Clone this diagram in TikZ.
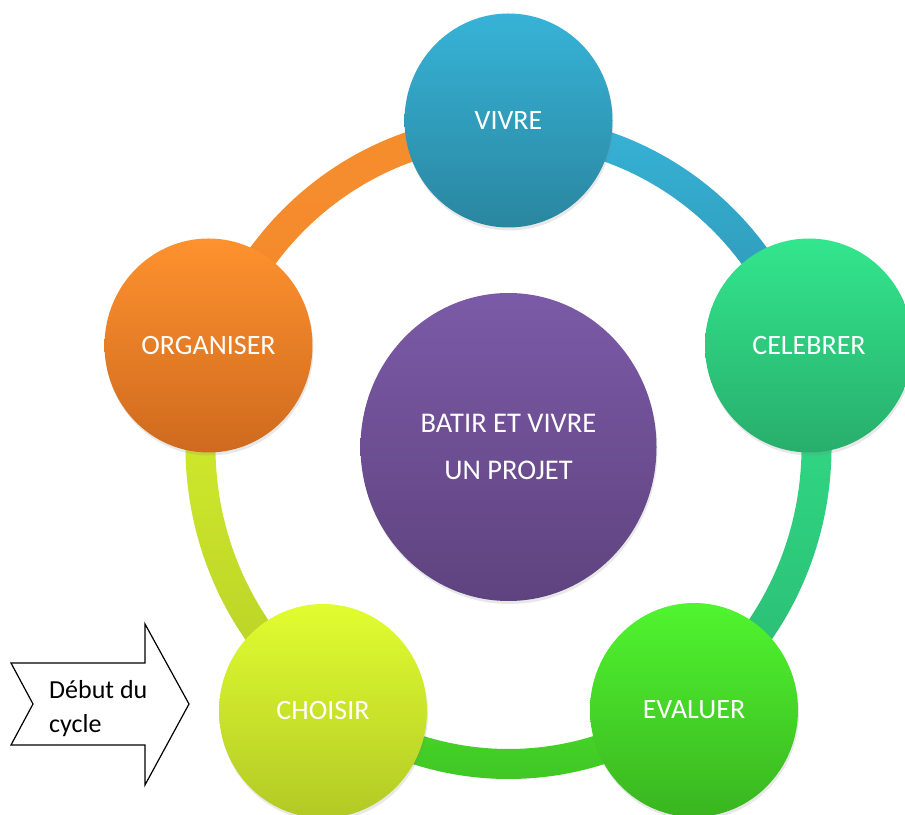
\documentclass[tikz,border=0pt]{standalone}
\usepackage{fontspec}
\setmainfont{Carlito}
\usetikzlibrary{shapes.geometric,shadows}

\definecolor{projetTop}{HTML}{7B5AA7}
\definecolor{projetBot}{HTML}{5F437F}
\definecolor{vivreTop}{HTML}{37B3D7}
\definecolor{vivreBot}{HTML}{2A86A0}
\definecolor{celebrerTop}{HTML}{33E68D}
\definecolor{celebrerBot}{HTML}{28AE6C}
\definecolor{evaluerTop}{HTML}{50F52F}
\definecolor{evaluerBot}{HTML}{3AB520}
\definecolor{choisirTop}{HTML}{E1FD30}
\definecolor{choisirBot}{HTML}{B3C925}
\definecolor{organiserTop}{HTML}{FE922F}
\definecolor{organiserBot}{HTML}{CF6A1E}

\begin{document}
\begin{tikzpicture}[x=1pt,y=1pt,
    etape/.style={ellipse, minimum width=208pt, minimum height=214pt, inner sep=0pt,
        text=white, font=\fontsize{28}{34}\selectfont,
        drop shadow={shadow xshift=1pt, shadow yshift=-3pt, opacity=0.18}},
    ]
            \clip (0,0) rectangle (905,814);
            \node[etape, minimum width=296pt, minimum height=308pt, top color=projetTop, bottom color=projetBot,
                align=center, font=\fontsize{28.5}{47}\selectfont](projet) at (508.5,367){BATIR ET VIVRE\\UN PROJET};
            % ring round the centre
            \begin{scope}[shift={(projet.center)}]
            \shade[top color=organiserTop!97!black, bottom color=organiserTop!75!organiserBot] (162:323 and 332) arc[start angle=162, end angle=90, x radius=323, y radius=332] -- (90:293 and 302) arc[start angle=90, end angle=162, x radius=293, y radius=302] -- cycle;
            \shade[top color=vivreTop, bottom color=vivreBot!70!vivreTop] (90:323 and 332) arc[start angle=90, end angle=18, x radius=323, y radius=332] -- (18:293 and 302) arc[start angle=18, end angle=90, x radius=293, y radius=302] -- cycle;
            \shade[top color=celebrerTop!97!black, bottom color=celebrerBot!80!celebrerTop] (18:323 and 332) arc[start angle=18, end angle=-54, x radius=323, y radius=332] -- (-54:293 and 302) arc[start angle=-54, end angle=18, x radius=293, y radius=302] -- cycle;
            \shade[top color=evaluerTop!90!black, bottom color=evaluerBot!80!evaluerTop] (-54:323 and 332) arc[start angle=-54, end angle=-126, x radius=323, y radius=332] -- (-126:293 and 302) arc[start angle=-126, end angle=-54, x radius=293, y radius=302] -- cycle;
            \shade[top color=choisirTop!95!black, bottom color=choisirBot!90!choisirTop] (-126:323 and 332) arc[start angle=-126, end angle=-198, x radius=323, y radius=332] -- (162:293 and 302) arc[start angle=162, end angle=234, x radius=293, y radius=302] -- cycle;
            \end{scope}
            \node[etape, top color=vivreTop, bottom color=vivreBot](vivre) at (508.5,693.5){VIVRE};
            \node[etape, top color=celebrerTop, bottom color=celebrerBot](celebrer) at (809,468.5){CELEBRER};
            \node[etape, top color=evaluerTop, bottom color=evaluerBot](evaluer) at (694,104){EVALUER};
            \node[etape, top color=choisirTop, bottom color=choisirBot](choisir) at (323,103){CHOISIR};
            \node[etape, top color=organiserTop, bottom color=organiserBot](organiser) at (208.5,468.5){ORGANISER};
            % start arrow
            \draw[line width=1.2pt, fill=white, line join=miter] (11,151) -- (145,151) -- (145,190) -- (189,110) -- (145,29) -- (145,69) -- (11,69) -- (33,110) -- cycle;
            \node[anchor=west, align=left, inner sep=0pt, font=\fontsize{26}{34}\selectfont](debut) at (49,105){Début du\\cycle};
\end{tikzpicture}
\end{document}
